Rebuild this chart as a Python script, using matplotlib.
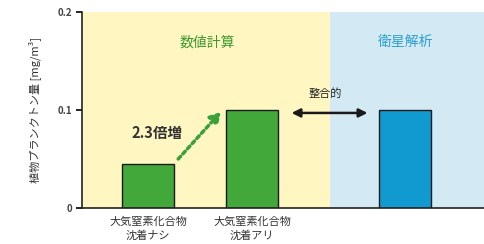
import matplotlib

matplotlib.use("Agg")
import matplotlib.pyplot as plt
from matplotlib.patches import Rectangle

plt.rcParams["font.family"] = ["Noto Sans CJK JP", "DejaVu Sans"]

# data
categories = ["大気窒素化合物\n沈着ナシ", "大気窒素化合物\n沈着アリ", ""]
positions = [0.0, 1.0, 2.47]
values = [0.045, 0.100, 0.100]
bar_colors = ["#43a83a", "#43a83a", "#109ad0"]
yticks = [0, 0.1, 0.2]
ytick_labels = ["0", "0.1", "0.2"]
ratio_label = "2.3倍増"

fig = plt.figure(figsize=(4.85, 2.44), dpi=100)
ax = fig.add_axes([82 / 485, 36 / 244, 1 - 82 / 485, 196 / 244])

x_left, x_split, x_right = -0.635, 1.75, 3.24
ax.set_xlim(x_left, x_right)
ax.set_ylim(0, 0.2)

# background panels
ax.add_patch(Rectangle((x_left, 0), x_split - x_left, 0.2, color="#fff6c2", zorder=0, lw=0))
ax.add_patch(Rectangle((x_split, 0), x_right - x_split, 0.2, color="#d3e9f3", zorder=0, lw=0))

ax.bar(positions, values, width=0.5, color=bar_colors, edgecolor="#1a1a1a", linewidth=1.0, zorder=2)

ax.text(0.57, 0.169, "数値計算", color="#3c9a2e", fontsize=10, ha="center", va="center")
ax.text(2.48, 0.169, "衛星解析", color="#2b9fd0", fontsize=10, ha="center", va="center")

# 2.3x arrow
ax.annotate("", xy=(0.70, values[1] - 0.002), xytext=(0.29, values[0] + 0.005),
            arrowprops=dict(arrowstyle="-|>,head_width=0.35,head_length=0.6", color="#3aa03a",
                            lw=2.5, linestyle=(0, (1, 1)), shrinkA=0, shrinkB=0), zorder=3)
ax.text(0.09, 0.0765, ratio_label, fontsize=10.5, ha="center", va="center", color="#333333",
        fontweight="bold")

# consistency arrow
ax.annotate("", xy=(2.11, 0.097), xytext=(1.38, 0.097),
            arrowprops=dict(arrowstyle="<|-|>,head_width=0.25,head_length=0.5", color="#1a1a1a",
                            lw=1.8, shrinkA=0, shrinkB=0), zorder=3)
ax.text(1.70, 0.117, "整合的", fontsize=8, ha="center", va="center", color="#222222")

ax.set_xticks(positions[:2])
ax.set_xticklabels(categories[:2], fontsize=8, color="#333333", linespacing=1.4)
ax.tick_params(axis="x", length=0, pad=6)
ax.set_yticks(yticks)
ax.set_yticklabels(ytick_labels, fontsize=7, color="#444444", fontweight="bold")
ax.tick_params(axis="y", length=4, width=1.2, direction="out", pad=3)

ax.set_ylabel("植物プランクトン量 [mg/m³]", fontsize=8, color="#333333", labelpad=12)

for side in ["top", "right"]:
    ax.spines[side].set_visible(False)
for side in ["left", "bottom"]:
    ax.spines[side].set_linewidth(1.2)
    ax.spines[side].set_color("#222222")

fig.savefig("out.png", dpi=100)
